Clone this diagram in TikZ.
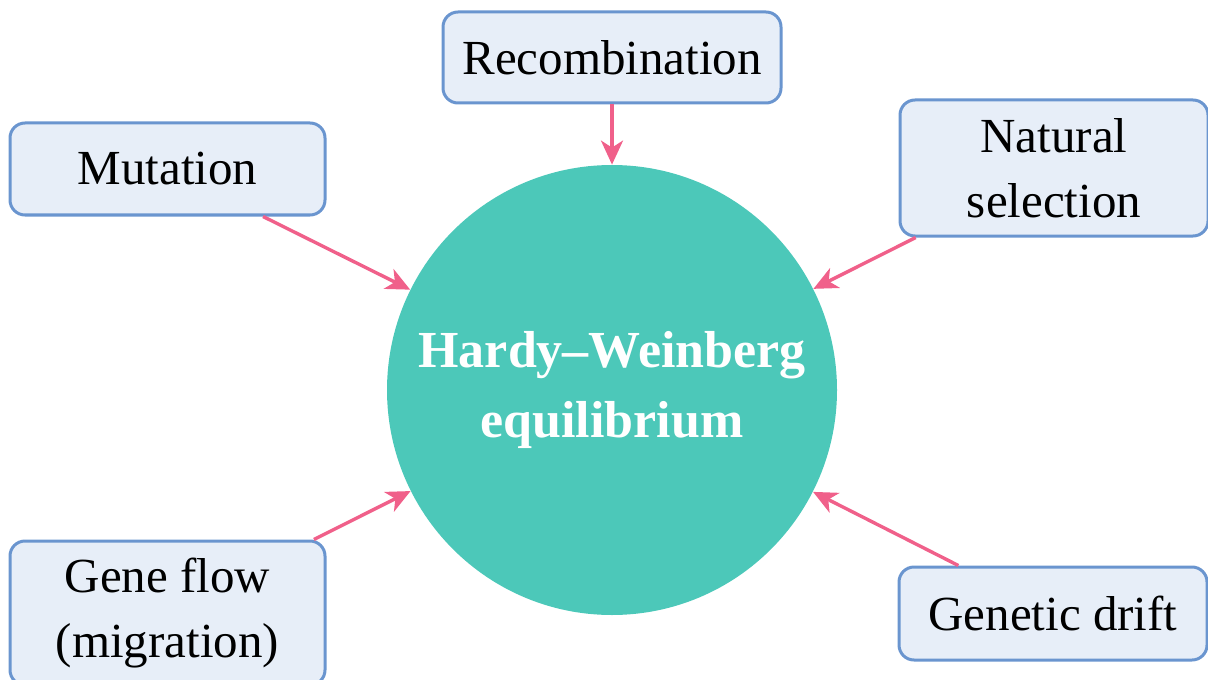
\documentclass[tikz,border=0pt]{standalone}
\usepackage{fontspec}
\setmainfont{Liberation Serif}
\usepackage{tikz}
\usetikzlibrary{arrows.meta,shapes}
\definecolor{boxfill}{HTML}{E7EEF8}
\definecolor{boxline}{HTML}{6A95CF}
\definecolor{hwteal}{HTML}{4CC8B9}
\definecolor{arrowpink}{HTML}{F0608A}
\tikzstyle{line} = [draw, arrowpink, line width=1.7pt, -{Stealth[length=12pt,width=11pt,inset=3.5pt]}]
\tikzstyle{hw} = [circle, fill=hwteal, minimum size=225pt, inner sep=0pt, text=white, align=center, font=\fontsize{26}{35}\selectfont\bfseries]
\tikzstyle{factor} = [rectangle, rounded corners=7.5pt, draw=boxline, line width=1.5pt, fill=boxfill, align=center, inner sep=0pt, font=\fontsize{24.5}{32.5}\selectfont]

\begin{document}
\begin{tikzpicture}[x=0.5pt, y=-0.5pt]
			\useasboundingbox (0,0) rectangle (1208,679);
			\node [hw] (hwe) at (612,390) {Hardy--Weinberg\\equilibrium};
		
			\node [factor, minimum width=169pt, minimum height=45.5pt] (recomb) at (612,57.5) {Recombination};
			\node [factor, minimum width=157.5pt, minimum height=46pt] (mut) at (167.5,169) {Mutation};
			\node [factor, minimum width=154pt, minimum height=68pt] (natsel) at (1054,168) {Natural\\selection};
			\node [factor, minimum width=157.5pt, minimum height=72pt] (geneflow) at (167.5,613) {Gene flow\\(migration)};
			\node [factor, minimum width=154pt, minimum height=46.5pt] (drift) at (1053,613.5) {Genetic drift};
			
			\path [line] (recomb) to (hwe);
			\path [line] (mut) to (hwe);
			\path [line] (natsel) to (hwe);
			\path [line] (geneflow) to (hwe);
			\path [line] (drift) to (hwe);
		\end{tikzpicture}
\end{document}
